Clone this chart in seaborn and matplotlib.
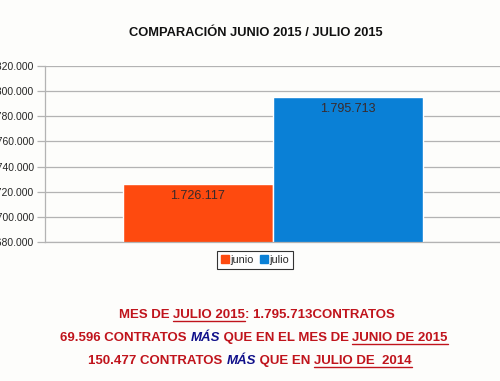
import numpy as np
import pandas as pd
import matplotlib
matplotlib.use("Agg")
import matplotlib.pyplot as plt
from matplotlib.lines import Line2D
import seaborn as sns

# --- datos ---
meses = ["junio", "julio"]
contratos = [1726117, 1795713]
etiquetas = ["1.726.117", "1.795.713"]
colores = ["#fe4a0f", "#0a80d6"]
ticks = [1680000, 1700000, 1720000, 1740000, 1760000, 1780000, 1800000, 1820000]
tick_labels = ["1.680.000", "1.700.000", "1.720.000", "1.740.000",
               "1.760.000", "1.780.000", "1.800.000", "1.820.000"]

titulo = "COMPARACIÓN JUNIO 2015 / JULIO 2015"
rojo = "#c0141c"
azul = "#10108a"
# cada linea: lista de (texto, color, italica, subrayado)
lineas = [
    [("MES DE ", rojo, False, False), ("JULIO 2015", rojo, False, True),
     (": 1.795.713CONTRATOS", rojo, False, False)],
    [("69.596 CONTRATOS ", rojo, False, False), ("MÁS", azul, True, False),
     (" QUE EN EL MES DE ", rojo, False, False), ("JUNIO DE 2015", rojo, False, True)],
    [("150.477 CONTRATOS ", rojo, False, False), ("MÁS", azul, True, False),
     (" QUE EN ", rojo, False, False), ("JULIO DE  2014", rojo, False, True)],
]
y_lineas = [318, 341, 364]
x_centros = [257, 254, 250]

df = pd.DataFrame({"grupo": ["x", "x"], "mes": meses, "contratos": contratos})

sns.set_theme(style="white")
plt.rcParams["font.family"] = ["Liberation Sans", "DejaVu Sans"]

W, H = 500, 381
fig = plt.figure(figsize=(W / 100, H / 100), dpi=100, facecolor="#fdfdfb")
ax = fig.add_axes([45 / W, 1 - 242 / H, 456 / W, 176 / H])
ax.set_facecolor("#fdfdfb")

sns.barplot(data=df, x="grupo", y="contratos", hue="mes", palette=colores,
            width=0.66, gap=0, saturation=1, ax=ax, legend=False)

ax.set_ylim(1680000, 1820000)
ax.set_xlim(-0.5, 0.5)
ax.set_yticks(ticks)
ax.set_yticklabels(tick_labels, fontsize=7.5)
ax.set_xticks([])
ax.set_xlabel("")
ax.set_ylabel("")
ax.yaxis.grid(True, color="#b3b3b3", linewidth=0.9)
ax.set_axisbelow(True)
ax.tick_params(axis="y", length=6, width=0.9, color="#b3b3b3", pad=2, left=True)
for s in ["top", "right"]:
    ax.spines[s].set_visible(False)
for s in ["left", "bottom"]:
    ax.spines[s].set_color("#b3b3b3")
    ax.spines[s].set_linewidth(0.9)

# etiquetas de valor dentro de las barras
for patch, lab in zip(ax.patches, etiquetas):
    x = patch.get_x() + patch.get_width() / 2
    ax.annotate(lab, (x, patch.get_height()), xytext=(0, -4.5),
                textcoords="offset points", ha="center", va="top",
                fontsize=9, color="#3a2a2a")

# leyenda
handles = [Line2D([], [], marker="s", linestyle="", markersize=5.5,
                  markerfacecolor=c, markeredgecolor=c) for c in colores]
leg = fig.legend(handles, meses, loc="center", bbox_to_anchor=(255 / W, 1 - 260 / H),
                 ncol=2, fontsize=7.8, frameon=True, fancybox=False,
                 handletextpad=0.1, columnspacing=0.5, handlelength=0.8,
                 borderpad=0.35, borderaxespad=0)
leg.get_frame().set_edgecolor("black")
leg.get_frame().set_linewidth(0.8)

fig.text(256 / W, 1 - 33 / H, titulo, ha="center", va="center",
         fontsize=9.3, fontweight="bold", color="#111111")

# textos inferiores con subrayado
fig.canvas.draw()
renderer = fig.canvas.get_renderer()
for piezas, yp, xc in zip(lineas, y_lineas, x_centros):
    objs = []
    for txt, col, ital, sub in piezas:
        t = fig.text(0, 1 - yp / H, txt, ha="left", va="baseline", fontsize=9.5,
                     fontweight="bold", color=col,
                     fontstyle="italic" if ital else "normal")
        objs.append((t, sub))
    anchos = [t.get_window_extent(renderer).width for t, _ in objs]
    x0 = xc - sum(anchos) / 2
    for (t, sub), w in zip(objs, anchos):
        t.set_x(x0 / W)
        if sub:
            fig.add_artist(Line2D([x0 / W, (x0 + w) / W],
                                  [1 - (yp + 2.5) / H, 1 - (yp + 2.5) / H],
                                  color=t.get_color(), linewidth=1.0))
        x0 += w

fig.savefig("out.png", dpi=100, facecolor=fig.get_facecolor())
